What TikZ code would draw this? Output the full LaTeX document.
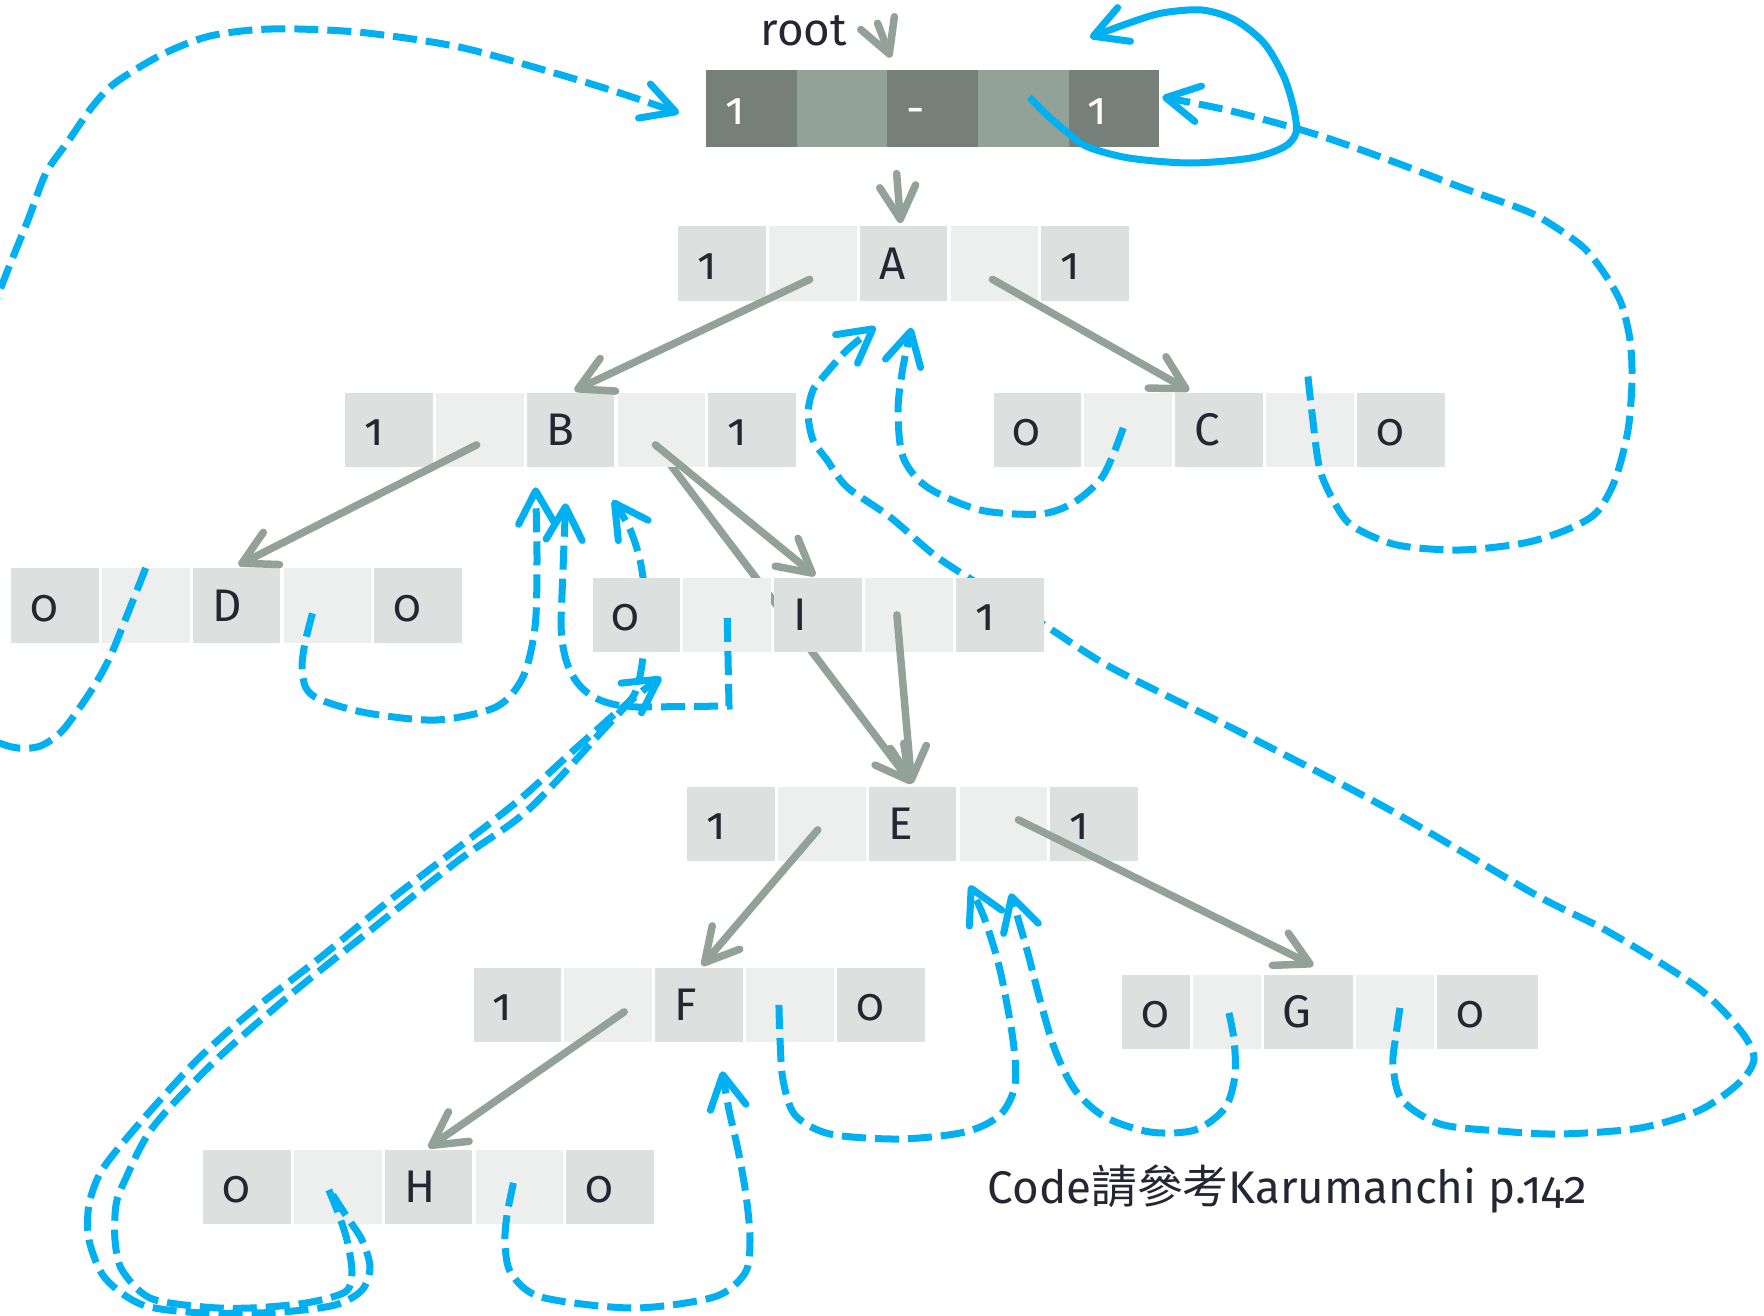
\documentclass[tikz,border=0pt]{standalone}
\usepackage{fontspec}
\setmainfont{Fira Sans}[Numbers=OldStyle]
\newfontfamily\cjk{Noto Sans CJK TC}
\usepackage{tikz}
\usetikzlibrary{arrows.meta, positioning, calc, backgrounds}

\definecolor{datgray}{HTML}{DCE0DF}
\definecolor{ptrgray}{HTML}{EDEFEE}
\definecolor{rootdark}{HTML}{767F79}
\definecolor{rootlight}{HTML}{93A298}
\definecolor{edgegray}{HTML}{93A298}
\definecolor{threadblue}{HTML}{00B0F0}
\definecolor{ink}{HTML}{262632}

\begin{document}
\begin{tikzpicture}[
  x=0.01cm, y=-0.01cm,
  node distance=0.31mm,
  cell/.style={minimum width=8.77mm, minimum height=7.47mm, inner sep=0pt, outer sep=0pt,
               text height=3.2mm, text depth=0pt, text width=4.9mm, align=left,
               font=\fontsize{13}{15}\selectfont, text=ink},
  dat/.style={cell, fill=datgray},
  ptr/.style={cell, fill=ptrgray},
  rootcell/.style={cell, minimum width=9.06mm, minimum height=7.7mm,
                   text width=5.2mm, text=white},
  tree/.style={draw=edgegray, line width=0.75mm, line cap=round,
               -{Straight Barb[round, length=3.3mm, width=3.6mm]}},
  thread/.style={draw=threadblue, line width=0.7mm, dash pattern=on 2.4mm off 0.9mm,
                 -{Straight Barb[round, length=3.3mm, width=3.6mm]}},
  label/.style={inner sep=0pt, anchor=base west, text=ink,
                font=\fontsize{13}{15}\selectfont}
]
\useasboundingbox (0,0) rectangle (1764,1315);
\clip (0,0) rectangle (1764,1315);

% dummy root
\node[rootcell, fill=rootdark, anchor=north west] (r1) at (706,69.5) {1};
\node[rootcell, fill=rootlight, right=0pt of r1] (r2) {};
\node[rootcell, fill=rootdark, right=0pt of r2] (r3) {-};
\node[rootcell, fill=rootlight, right=0pt of r3] (r4) {};
\node[rootcell, fill=rootdark, right=0pt of r4] (r5) {1};
\node[label] (rootlbl) at (760,45) {root};

% A
\node[dat, anchor=north west] (a1) at (678,226) {1};
\node[ptr, right=of a1] (a2) {};
\node[dat, right=of a2] (a3) {A};
\node[ptr, right=of a3] (a4) {};
\node[dat, right=of a4] (a5) {1};

% B
\node[dat, anchor=north west] (b1) at (345,392.5) {1};
\node[ptr, right=of b1] (b2) {};
\node[dat, right=of b2] (b3) {B};
\node[ptr, right=of b3] (b4) {};
\node[dat, right=of b4] (b5) {1};

% C
\node[dat, anchor=north west] (c1) at (993.5,392.5) {0};
\node[ptr, right=of c1] (c2) {};
\node[dat, right=of c2] (c3) {C};
\node[ptr, right=of c3] (c4) {};
\node[dat, right=of c4] (c5) {0};

% D
\node[dat, anchor=north west] (d1) at (11,568) {0};
\node[ptr, right=of d1] (d2) {};
\node[dat, right=of d2] (d3) {D};
\node[ptr, right=of d3] (d4) {};
\node[dat, right=of d4] (d5) {0};

% I
\node[dat, anchor=north west] (i1) at (592.5,577.5) {0};
\node[ptr, right=of i1] (i2) {};
\node[dat, right=of i2] (i3) {I};
\node[ptr, right=of i3] (i4) {};
\node[dat, right=of i4] (i5) {1};

% E
\node[dat, anchor=north west] (e1) at (687,786.5) {1};
\node[ptr, right=of e1] (e2) {};
\node[dat, right=of e2] (e3) {E};
\node[ptr, right=of e3] (e4) {};
\node[dat, right=of e4] (e5) {1};

% F
\node[dat, anchor=north west] (f1) at (473.5,967.5) {1};
\node[ptr, right=of f1] (f2) {};
\node[dat, right=of f2] (f3) {F};
\node[ptr, right=of f3] (f4) {};
\node[dat, right=of f4] (f5) {0};

% G and H sit under the threads that run behind the I row
\begin{scope}[on background layer]
\node[dat, anchor=north west, minimum width=6.8mm, text width=3mm] (g1) at (1122,974.5) {0};
\node[ptr, right=of g1, minimum width=6.75mm, text width=2.95mm] (g2) {};
\node[dat, right=of g2, minimum width=8.9mm, text width=5.1mm] (g3) {G};
\node[ptr, right=of g3, minimum width=7.8mm, text width=4mm] (g4) {};
\node[dat, right=of g4, minimum width=10.05mm, text width=6.25mm] (g5) {0};

\node[dat, anchor=north west] (h1) at (203,1149.5) {0};
\node[ptr, right=of h1] (h2) {};
\node[dat, right=of h2] (h3) {H};
\node[ptr, right=of h3] (h4) {};
\node[dat, right=of h4] (h5) {0};
\end{scope}

\node[label] (note) at (987,1203) {Code{\cjk 請參考}Karumanchi p.142};

% thread ends
\coordinate (tRoot1) at ($(r1.west)+(-27,5)$);
\coordinate (tRoot2) at ($(r5.east)+(3,-11)$);
\coordinate (tSelf) at ($(r5.north)+(-24,-32)$);
\coordinate (tA1) at ($(a3.south)+(-28,26)$);
\coordinate (tA2) at ($(a3.south)+(8,27)$);
\coordinate (tB1) at ($(b3.south)+(-35,20)$);
\coordinate (tB2) at ($(b3.south)+(-5,36)$);
\coordinate (tB3) at ($(b3.south)+(42,33)$);
\coordinate (tI) at ($(i1.south)+(25,25)$);
\coordinate (tE1) at ($(e3.south)+(57,24)$);
\coordinate (tE2) at ($(e3.south)+(98,32)$);
\coordinate (tF) at ($(f3.south)+(23,29)$);

% child links
\draw[tree] ($(rootlbl.east)+(30,-7)$) -- ($(r3.north)+(-42,-12)$);
\draw[tree] ($(r3.south)+(-36,27)$) -- ($(a3.north)+(-3,-3)$);
\draw[tree] ($(a2.center)+(-3,16)$) -- ($(b3.north)+(4,-2)$);
\draw[tree] ($(a4.center)+(-2,16)$) -- ($(c3.north)+(-30,-2)$);
\draw[tree] ($(b2.center)+(-3,15)$) -- ($(d3.north)+(2,-3)$);
\draw[tree] ($(b4.center)+(-6,15)$) -- ($(i3.north)+(-3,-2)$);
\draw[tree] ($(i4.center)+(-12,0)$) -- ($(e3.north)+(-1,-3)$);
\draw[tree] ($(e2.center)+(-4,6)$) -- ($(f3.north)+(3,-2)$);
\draw[tree] ($(e4.center)+(15,-4)$) -- ($(g3.north)+(5,-9)$);
\draw[tree] ($(f2.center)+(16,7)$) -- ($(h3.north)+(0,-2)$);

% threads
\draw[thread] plot[smooth] coordinates {(d2.north) (124,623) (110,657) (96,683) (78,710)
  (60,733) (37,747) (5,745) (-50,715) (-90,600) (-40,400) (0,290) (28,220) (46,173)
  (69,140) (92,107) (115,83) (161,55) (206,37) (252,30) (298,29) (367,33) (459,47)
  (551,72) (620,93) (tRoot1)};
\draw[thread] plot[smooth] coordinates {($(d4.center)+(-15,8)$) (305,643) (302,667)
  (306,688) (321,700) (367,713) (436,720) (496,707) (523,677) (535,627) (537,560) (tB1)};
\draw[thread] ($(i2.center)+(0,3)$) -- (729,706) -- (645,707)
  .. controls (595,708) and (561,690) .. (561,620) -- (tB2);
\draw[thread] plot[smooth] coordinates {($(h4.center)+(-6,-4)$) (507,1215) (505,1243)
  (511,1273) (541,1297) (633,1308) (714,1297) (745,1273) (750,1240) (746,1195)
  (738,1150) (729,1110) (tF)};
\draw[thread] plot[smooth] coordinates {($(f4.center)+(-11,0)$) (780,1040) (783,1080)
  (795,1115) (830,1134) (900,1139) (965,1132) (1000,1115) (1015,1085) (1013,1040)
  (1000,970) (985,920) (tE1)};
\draw[thread] plot[smooth] coordinates {($(g2.center)+(2,1)$) (1234,1040) (1235,1075)
  (1225,1108) (1195,1130) (1150,1132) (1105,1117) (1075,1090) (1055,1050) (1040,1000)
  (1027,950) (tE2)};
\draw[thread] plot[smooth] coordinates {($(c2.center)+(-5,-2)$) (1113,455) (1100,480)
  (1073,503) (1040,514) (980,510) (927,487) (903,457) (898,410) (903,367) (tA2)};
\draw[thread] plot[smooth] coordinates {($(c4.north)+(-2,-16)$) (1312,413) (1320,470)
  (1337,507) (1354,527) (1397,545) (1460,550) (1524,543) (1566,530) (1596,513)
  (1615,480) (1628,430) (1632,380) (1630,340) (1621,303) (1604,273) (1583,247)
  (1549,223) (1524,210) (1460,187) (1397,163) (1333,140) (1291,127) (1227,110) (tRoot2)};
\draw[thread, solid] plot[smooth] coordinates {($(r4.center)+(6,-11)$) (1047,115)
  (1068,133) (1088,147) (1129,158) (1190,163) (1251,158) (1284,147) (1296,133)
  (1294,110) (1284,77) (1264,43) (1235,20) (1202,10) (1162,13) (1129,23) (tSelf)};
\draw[thread] plot[smooth] coordinates {($(h2.center)+(-9,3)$) (337,1210) (347,1240)
  (352,1273) (345,1292) (306,1303) (250,1308) (204,1307) (150,1298) (122,1270)
  (115,1240) (116,1205) (125,1180) (153,1127) (216,1060) (290,995) (367,933)
  (459,860) (528,810) (606,727) (635,697) (tI)};

% links that pass behind the I row
\begin{scope}[on background layer]
\draw[tree] ($(b4.center)+(-6,15)$) -- ($(e3.north)+(-1,-3)$);
\draw[thread] plot[smooth] coordinates {($(g4.center)+(5,-4)$) (1396,1035) (1393,1065)
  (1402,1100) (1440,1124) (1500,1131) (1560,1134) (1640,1128) (1700,1110) (1740,1082)
  (1754,1058) (1740,1030) (1697,987) (1609,932) (1536,895) (1390,810) (1244,734)
  (1112,668) (1046,626) (990,591) (937,557) (890,517) (847,487) (827,460) (813,440)
  (808,413) (813,390) (823,377) (847,350) (tA1)};
\draw[thread] plot[smooth] coordinates {($(h2.center)+(-5,8)$) (347,1217) (362,1240)
  (370,1267) (362,1290) (335,1305) (280,1312) (204,1313) (143,1305) (105,1278)
  (89,1240) (89,1205) (102,1170) (138,1125) (197,1060) (253,1010) (321,957) (390,900)
  (459,847) (519,800) (574,750) (610,718) (634,695) (643,657) (645,600) (640,560)
  (629,527) (tB3)};
\end{scope}
\end{tikzpicture}
\end{document}
